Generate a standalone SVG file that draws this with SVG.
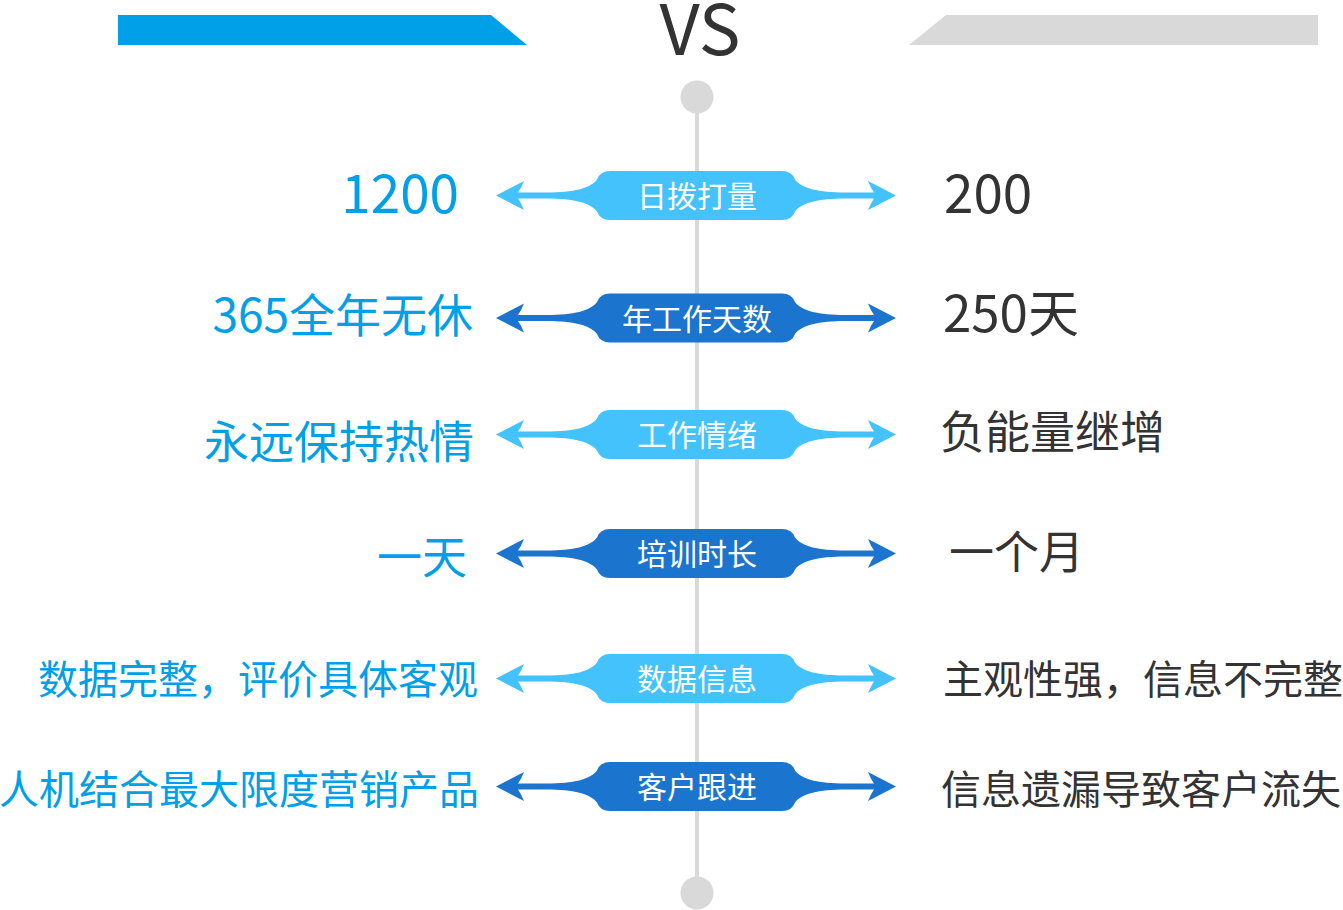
<svg xmlns="http://www.w3.org/2000/svg" xmlns:xlink="http://www.w3.org/1999/xlink" width="1343" height="910" viewBox="0 0 1343 910">
<style>
text{font-family:"Noto Sans CJK SC","Noto Sans",sans-serif;}
.lt{fill:#00A0E9;text-anchor:end;}
.rt{fill:#333333;}
.pt{fill:#FFFFFF;font-size:30px;text-anchor:middle;}
.light{fill:#44C2FC;}
.dark{fill:#1B74CE;}
</style>
<defs>
<path id="arr" d="M -200,0 L -172,-14.5 Q -175,-7 -178,-3 L -150,-3 C -122,-3 -106,-7 -99,-16 Q -96,-24.5 -86,-24.5 L 86,-24.5 Q 96,-24.5 99,-16 C 106,-7 122,-3 150,-3 L 178,-3 Q 175,-7 172,-14.5 L 200,0 L 172,14.5 Q 175,7 178,3 L 150,3 C 122,3 106,7 99,16 Q 96,24.5 86,24.5 L -86,24.5 Q -96,24.5 -99,16 C -106,7 -122,3 -150,3 L -178,3 Q -175,7 -172,14.5 Z"/>
</defs>
<rect width="1343" height="910" fill="#FFFFFF"/>
<g id="header">
<polygon points="118,15 491,15 527,45 118,45" fill="#00A0E9"/>
<polygon points="946,15 1318,15 1318,45 909,45" fill="#D9D9D9"/>
<text x="700" y="55" font-size="70" fill="#333333" text-anchor="middle">VS</text>
</g>
<g id="connectors">
<line x1="697" y1="97" x2="697" y2="893" stroke="#D9D9D9" stroke-width="4"/>
<circle cx="697" cy="97" r="16.5" fill="#D9D9D9"/>
<circle cx="697" cy="893" r="16.5" fill="#D9D9D9"/>
</g>
<g id="row1">
<use xlink:href="#arr" href="#arr" x="696" y="195.5" class="light"/>
<text class="pt" x="697" y="207">日拨打量</text>
<text class="lt" x="459" y="213" font-size="53">1200</text>
<text class="rt" x="944" y="213" font-size="53">200</text>
</g>
<g id="row2">
<use xlink:href="#arr" href="#arr" x="696" y="318" class="dark"/>
<text class="pt" x="697" y="329.5">年工作天数</text>
<text class="lt" x="473" y="332" font-size="46">365全年无休</text>
<text class="rt" x="943" y="332" font-size="51">250天</text>
</g>
<g id="row3">
<use xlink:href="#arr" href="#arr" x="696" y="434.5" class="light"/>
<text class="pt" x="697" y="446">工作情绪</text>
<text class="lt" x="474" y="459" font-size="45">永远保持热情</text>
<text class="rt" x="940" y="449" font-size="45">负能量继增</text>
</g>
<g id="row4">
<use xlink:href="#arr" href="#arr" x="696" y="553.5" class="dark"/>
<text class="pt" x="697" y="565">培训时长</text>
<text class="lt" x="467" y="574" font-size="45">一天</text>
<text class="rt" x="949" y="569" font-size="45">一个月</text>
</g>
<g id="row5">
<use xlink:href="#arr" href="#arr" x="696" y="678.5" class="light"/>
<text class="pt" x="697" y="690">数据信息</text>
<text class="lt" x="478" y="694" font-size="40">数据完整，评价具体客观</text>
<text class="rt" x="943" y="694" font-size="40">主观性强，信息不完整</text>
</g>
<g id="row6">
<use xlink:href="#arr" href="#arr" x="696" y="786.5" class="dark"/>
<text class="pt" x="697" y="798">客户跟进</text>
<text class="lt" x="479" y="804" font-size="40">人机结合最大限度营销产品</text>
<text class="rt" x="941" y="804" font-size="40">信息遗漏导致客户流失</text>
</g>
</svg>
